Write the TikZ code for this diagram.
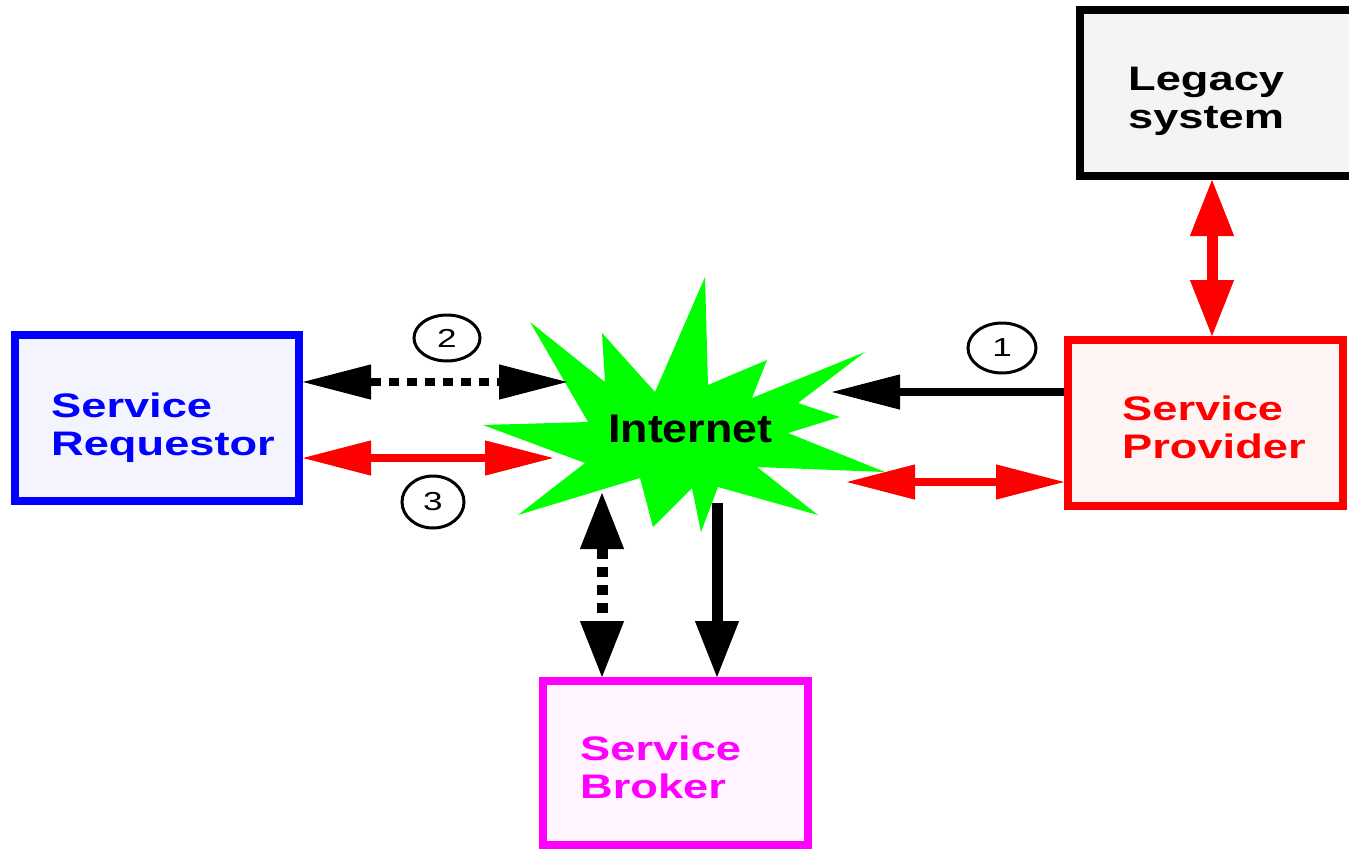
\documentclass[tikz,border=0pt]{standalone}
\usepackage{fontspec}
\setmainfont{Liberation Sans}
\newfontfamily\boxfont[FakeStretch=1.33]{Liberation Sans}
\newfontfamily\netfont[FakeStretch=1.12]{Liberation Sans}
\newfontfamily\numfont[FakeStretch=1.35]{Liberation Sans}
\usetikzlibrary{arrows.meta,shapes.geometric}

\definecolor{reqfill}{HTML}{F4F4FF}
\definecolor{provfill}{HTML}{FFF4F4}
\definecolor{brokfill}{HTML}{FFF4FF}
\definecolor{legfill}{HTML}{F4F4F4}
\definecolor{netgreen}{HTML}{00FF00}
\definecolor{pureblue}{HTML}{0000FF}
\definecolor{purered}{HTML}{FF0000}
\definecolor{puremag}{HTML}{FF00FF}

\tikzset{
  H/.tip={Triangle[length=68pt,width=35pt,line width=1pt]},
  V/.tip={Triangle[length=56pt,width=44pt,line width=1pt]},
  box/.style={rectangle, draw=#1, line width=8pt, inner sep=0pt},
  lbl/.style={anchor=base west, align=left, inner sep=0pt,
    font=\boxfont\bfseries\fontsize{34}{38}\selectfont},
  num/.style={ellipse, draw=black, line width=3pt, inner sep=0pt,
    font=\numfont\fontsize{26}{26}\selectfont},
  hlink/.style={line width=8pt},
  vlink/.style={line width=11pt},
  dotted link/.style={dash pattern=on 10pt off 8pt}
}

\begin{document}
\begin{tikzpicture}[x=1pt,y=-1pt]
\useasboundingbox (0,0) rectangle (1349,849);
\clip (0,0) rectangle (1349,849);

% the four parties
\node[box=pureblue, fill=reqfill, minimum width=284pt, minimum height=166pt] (req) at (157,418) {};
\node[box=purered, fill=provfill, minimum width=275pt, minimum height=166pt] (prov) at (1205.5,423) {};
\node[box=puremag, fill=brokfill, minimum width=265pt, minimum height=164pt] (brok) at (675.5,763) {};
\node[box=black, fill=legfill, minimum width=290pt, minimum height=166pt] (leg) at (1225,93) {};

% labels are placed by the baseline of their last line
\node[lbl, text=pureblue] (reqtxt) at (51,455) {Service\\Requestor};
\node[lbl, text=purered] (provtxt) at (1122,458) {Service\\Provider};
\node[lbl, text=puremag] (broktxt) at (580,798) {Service\\Broker};
\node[lbl, text=black] (legtxt) at (1128,128) {Legacy\\system};

% the Internet cloud
\fill[netgreen] (483,425) -- (588,422) -- (530,322) -- (605,382) -- (602,333)
  -- (655,392) -- (705,277) -- (708,385) -- (767,360) -- (752,398)
  -- (865,352) -- (798,403) -- (840,417) -- (788,433) -- (885,472)
  -- (757,467) -- (818,515) -- (718,487) -- (701,532) -- (692,488)
  -- (653,527) -- (640,478) -- (518,515) -- (585,463) -- cycle;
\node[anchor=base west, inner sep=0pt, font=\netfont\bfseries\fontsize{40}{40}\selectfont] (inet) at (608,442) {Internet};

% arrow ends on the cloud
\coordinate (n2) at (567,382);
\coordinate (n3) at (553,458);
\coordinate (n1) at (832,392);
\coordinate (n4) at (847,482);
\coordinate (nb1) at (602,493);
\coordinate (nb2) at (717,503);

% step labels
\node[num, minimum width=66pt, minimum height=46pt] (c2) at (447,338) {2};
\node[num, minimum width=62pt, minimum height=52pt] (c3) at (433,502) {3};
\node[num, minimum width=68pt, minimum height=50pt] (c1) at (1002,348) {1};

% connectors
\draw[hlink, dotted link, black, H-H] (req.east |- n2) -- (n2);
\draw[hlink, purered, H-H] (req.east |- n3) -- (n3);
\draw[hlink, black, -H] (prov.west |- n1) -- (n1);
\draw[hlink, purered, H-H] (prov.west |- n4) -- (n4);
\draw[vlink, purered, V-V] (leg.south -| 1212,0) -- (prov.north -| 1212,0);
\draw[vlink, dotted link, black, V-V] (nb1) -- (brok.north -| nb1);
\draw[vlink, black, -V] (nb2) -- (brok.north -| nb2);
\end{tikzpicture}
\end{document}
